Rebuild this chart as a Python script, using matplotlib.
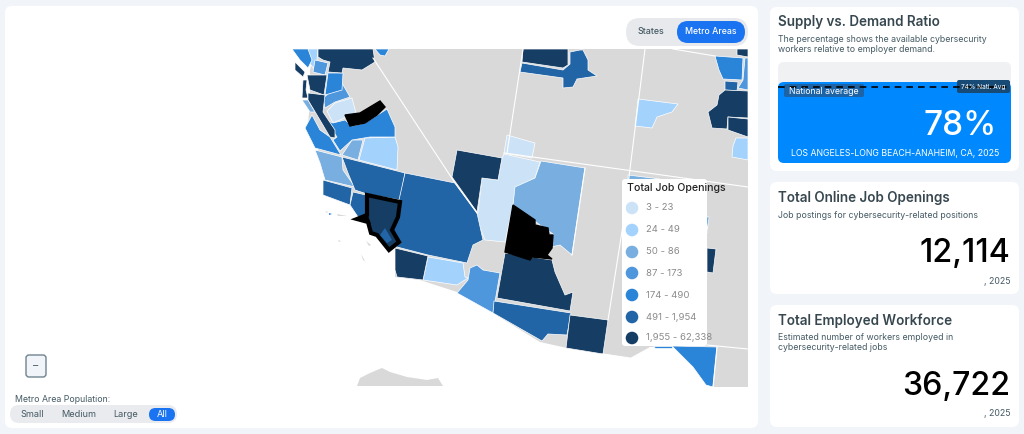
import matplotlib
matplotlib.use('Agg')
import matplotlib.pyplot as plt
from matplotlib.patches import FancyBboxPatch, Polygon, Circle

plt.rcParams['font.family'] = ['Inter', 'DejaVu Sans']

# legend classes
bin_labels = ['3 - 23', '24 - 49', '50 - 86', '87 - 173', '174 - 490', '491 - 1,954', '1,955 - 62,338']
bin_colors = ['#cce3f7', '#a3d2fd', '#78aee0', '#4f97dd', '#2a84d8', '#2265a6', '#163d64']

# KPI values
ratio_value = '78%'
national_avg = '74% Natl. Avg'
area_label = 'LOS ANGELES-LONG BEACH-ANAHEIM, CA, 2025'
job_openings = '12,114'
workforce = '36,722'

# map outlines (pixel space): one list per class
land = [[(315, 49), (748, 49), (748, 387), (713, 387), (693, 367), (673, 347), (650, 347), (630, 358),
         (567, 348), (540, 342), (493, 313), (457, 292), (420, 280), (395, 277), (395, 248), (380, 235),
         (360, 215), (352, 205), (325, 190), (325, 165), (318, 150), (308, 125), (310, 100), (310, 70)],
        [(357, 386), (360, 378), (370, 373), (382, 368), (390, 372), (407, 377), (427, 380), (438, 378), (443, 386)],
        [(325, 211), (328, 212), (327, 213)], [(337, 214), (347, 216), (338, 216)],
        [(338, 240), (341, 241), (339, 242)], [(366, 241), (371, 245), (369, 246)], [(361, 254), (365, 261), (363, 260)]]

bin0 = [[(352, 98), (356, 113), (333, 123), (327, 111), (335, 103)],
        [(507, 135), (535, 143), (532, 158), (504, 153)],
        [(504, 154), (540, 162), (535, 178), (517, 187), (513, 205), (505, 242), (485, 240), (476, 218),
         (478, 212), (482, 178), (498, 180), (502, 158)]]
bin1 = [[(308, 49), (318, 49), (317, 60), (313, 68), (309, 62)],
        [(365, 138), (395, 137), (398, 147), (397, 170), (359, 160)],
        [(428, 257), (463, 263), (465, 277), (468, 278), (457, 285), (423, 280)],
        [(638, 99), (678, 104), (672, 112), (657, 117), (652, 128), (635, 126)],
        [(736, 138), (748, 138), (748, 160), (732, 157), (733, 146)]]
bin2 = [[(302, 100), (308, 100), (315, 112), (310, 112)],
        [(352, 140), (363, 140), (358, 160), (342, 155)],
        [(315, 150), (342, 157), (343, 170), (355, 187), (325, 180), (320, 163)],
        [(541, 161), (585, 168), (572, 255), (560, 245), (551, 247), (553, 234), (540, 225), (513, 205),
         (515, 187), (535, 178)],
        [(628, 175), (660, 179), (628, 181)]]
bin3 = [[(315, 60), (328, 63), (325, 75), (313, 72)],
        [(342, 83), (350, 97), (335, 102), (325, 108), (323, 98)],
        [(477, 265), (483, 270), (500, 273), (493, 313), (457, 293), (468, 280), (470, 268)],
        [(745, 58), (748, 58), (748, 90), (738, 88), (743, 80)]]
bin4 = [[(292, 49), (308, 49), (312, 60), (308, 68), (300, 60)],
        [(330, 49), (338, 49), (334, 55)],
        [(375, 49), (389, 49), (385, 56), (380, 55)],
        [(328, 73), (343, 73), (342, 90), (325, 95)],
        [(333, 123), (345, 120), (352, 126), (365, 123), (387, 109), (395, 127), (395, 137), (370, 137),
         (352, 140), (340, 151), (333, 140), (337, 137), (325, 120)],
        [(312, 115), (320, 130), (330, 137), (341, 155), (315, 148), (305, 128)],
        [(715, 56), (743, 58), (742, 80), (723, 79), (719, 70)],
        [(672, 346), (717, 347), (713, 387), (706, 385), (693, 367)],
        [(653, 346), (672, 346), (672, 348), (655, 348)],
        [(707, 217), (709, 217), (707, 233)]]
bin5 = [[(342, 157), (405, 173), (400, 200), (367, 194), (355, 190), (348, 173)],
        [(323, 180), (352, 188), (350, 205), (323, 195)],
        [(353, 192), (366, 195), (367, 215), (358, 217), (350, 205)],
        [(405, 173), (455, 183), (477, 213), (483, 240), (473, 245), (467, 263), (428, 255), (397, 247),
         (385, 240), (399, 200)],
        [(494, 301), (571, 313), (567, 335), (548, 334), (542, 341), (493, 313)],
        [(522, 63), (563, 70), (570, 64), (570, 52), (580, 50), (583, 50), (588, 60), (588, 70), (597, 76),
         (577, 79), (573, 87), (563, 88), (563, 78), (520, 72)],
        [(725, 81), (738, 82), (737, 91), (725, 90)]]
bin6 = [[(318, 49), (373, 49), (375, 62), (362, 70), (343, 68), (342, 73), (328, 72), (330, 62), (323, 60), (318, 57)],
        [(295, 62), (305, 72), (303, 77), (295, 70)],
        [(307, 75), (327, 75), (324, 95), (310, 90)],
        [(303, 80), (302, 98), (308, 98), (306, 90), (307, 80)],
        [(308, 93), (325, 95), (323, 112), (335, 130), (335, 138), (330, 137), (317, 115), (308, 100)],
        [(457, 150), (502, 158), (498, 180), (482, 178), (477, 212), (452, 177)],
        [(505, 253), (552, 260), (555, 272), (565, 295), (573, 292), (570, 311), (497, 298)],
        [(395, 248), (428, 256), (423, 280), (397, 277), (395, 270)],
        [(570, 315), (608, 320), (603, 354), (566, 348)],
        [(707, 248), (716, 249), (713, 273), (707, 272)],
        [(523, 49), (568, 49), (568, 65), (563, 68), (522, 62)],
        [(737, 49), (748, 49), (748, 57), (737, 55)],
        [(725, 90), (748, 91), (748, 118), (728, 117), (727, 129), (712, 128), (708, 112), (717, 105), (719, 95)],
        [(728, 117), (748, 119), (748, 137), (728, 130)]]
small_blue = [[(329, 213), (332, 214), (329, 215)]]

# the selected areas
selected_black = [[(345, 115), (360, 113), (380, 101), (385, 107), (377, 115), (365, 123), (350, 126)],
                  [(513, 205), (535, 220), (535, 225), (548, 228), (549, 235), (553, 235), (552, 248), (547, 255),
                   (552, 259), (532, 257), (530, 260), (505, 252)]]
selected_outline = [(367, 195), (400, 202), (398, 217), (392, 230), (399, 242), (389, 250), (377, 235), (371, 233),
                    (368, 222), (357, 219), (367, 215)]
selected_inner = [(385, 228), (392, 240), (387, 243), (380, 235)]
selected_tip = [(357, 219), (367, 213), (371, 224)]

# state lines
state_lines = [[(373, 58), (455, 183), (477, 213)], [(523, 49), (507, 153)], [(504, 153), (748, 187)],
               [(645, 49), (623, 225), (608, 320)], [(673, 49), (715, 56)], [(585, 168), (572, 255)],
               [(707, 345), (748, 349)], [(717, 347), (713, 387)], [(603, 354), (630, 358)]]

fig = plt.figure(figsize=(10.24, 4.34), dpi=100, facecolor='#f1f5f9')
ax = fig.add_axes([0, 0, 1, 1])
ax.set_xlim(0, 1024)
ax.set_ylim(434, 0)
ax.axis('off')


def box(x0, y0, x1, y1, r, color, **kw):
    ax.add_patch(FancyBboxPatch((x0 + r, y0 + r), x1 - x0 - 2 * r, y1 - y0 - 2 * r,
                                boxstyle='round,pad=%g,rounding_size=%g' % (r, r), fc=color, ec=kw.pop('ec', 'none'), **kw))


# panels
box(5, 6, 758, 428, 7, 'white')
box(770, 7, 1019, 171, 7, 'white')
box(770, 182, 1019, 294, 7, 'white')
box(770, 305, 1019, 427, 7, 'white')

# map
for poly in land:
    ax.add_patch(Polygon(poly, fc='#d9d9d9', ec='none'))
for line in state_lines:
    ax.plot(*zip(*line), color='white', lw=0.8)
for polys, color in zip([bin0, bin1, bin2, bin3, bin4, bin5, bin6], bin_colors):
    for poly in polys:
        ax.add_patch(Polygon(poly, fc=color, ec='white', lw=0.5, joinstyle='round'))
for poly in small_blue:
    ax.add_patch(Polygon(poly, fc=bin_colors[4], ec='none'))
for poly in selected_black:
    ax.add_patch(Polygon(poly, fc='black', ec='black', lw=1))
ax.add_patch(Polygon(selected_outline, fc=bin_colors[6], ec='black', lw=3, joinstyle='miter'))
ax.add_patch(Polygon(selected_inner, fc=bin_colors[5], ec='none'))
ax.add_patch(Polygon(selected_tip, fc='black', ec='none'))

# legend
box(622, 179, 707, 346, 3, 'white')
ax.text(627, 188, 'Total Job Openings', fontsize=7.6, color='#222222', va='center', fontweight='medium')
legend_y = [208, 230, 252, 273, 295, 317, 338]
for y, label, color in zip(legend_y, bin_labels, bin_colors):
    ax.add_patch(Circle((632, y), 6.3, fc=color, ec='none'))
    ax.text(646, y, label, fontsize=6.9, color='#8a8a8a', va='center')

# states / metro toggle
box(626, 18, 748, 46, 14, '#e7e9ec')
box(677, 21, 745, 43, 11, '#1a73f0')
ax.text(651, 32, 'States', fontsize=6.4, color='#455a64', ha='center', va='center', fontweight='medium')
ax.text(711, 32, 'Metro Areas', fontsize=6.3, color='white', ha='center', va='center', fontweight='medium')

# zoom button and population filter
box(26, 355, 46, 377, 3, '#f1f5f9', ec='#6f8390', lw=1)
ax.text(36, 366, '–', fontsize=7.5, color='#455a64', ha='center', va='center')
ax.text(15, 400, 'Metro Area Population:', fontsize=6.3, color='#455a64', va='center')
box(10, 405, 177, 423, 9, '#e9ebee')
box(149, 408, 175, 421, 6.5, '#1a73f0')
for x, label in zip([32, 79, 126], ['Small', 'Medium', 'Large']):
    ax.text(x, 414.5, label, fontsize=6.6, color='#455a64', ha='center', va='center')
ax.text(162, 414.5, 'All', fontsize=6.6, color='white', ha='center', va='center')

# supply vs demand card
ax.text(778, 22, 'Supply vs. Demand Ratio', fontsize=9.7, color='#37474f', va='center', fontweight='semibold')
ax.text(778, 39, 'The percentage shows the available cybersecurity', fontsize=6.3, color='#455a64', va='center')
ax.text(778, 49.5, 'workers relative to employer demand.', fontsize=6.3, color='#455a64', va='center')
box(778, 62, 1011, 163, 6, '#f0f1f3')
box(778, 82, 1011, 163, 6, '#0088ff')
box(784, 84, 864, 97, 2, '#1c64a6')
ax.text(789, 91, 'National average', fontsize=6.25, color='white', va='center')
ax.plot([778, 1011], [87, 87], color='black', lw=1.2, dashes=(4, 3))
box(957, 80, 1010, 93, 2, '#174a75')
ax.text(983.5, 87, national_avg, fontsize=4.7, color='white', ha='center', va='center')
ax.text(997, 126, ratio_value, fontsize=24, color='white', ha='right', va='center', fontweight='medium')
ax.text(895, 153, area_label, fontsize=6.3, color='white', ha='center', va='center')

# job openings card
ax.text(778, 198, 'Total Online Job Openings', fontsize=9.7, color='#37474f', va='center', fontweight='semibold')
ax.text(778, 215, 'Job postings for cybersecurity-related positions', fontsize=6.3, color='#455a64', va='center')
ax.text(1010, 253, job_openings, fontsize=23.2, color='black', ha='right', va='center', fontweight='medium')
ax.text(1010, 281, ', 2025', fontsize=6.3, color='#455a64', ha='right', va='center')

# workforce card
ax.text(778, 321, 'Total Employed Workforce', fontsize=9.7, color='#37474f', va='center', fontweight='semibold')
ax.text(778, 337, 'Estimated number of workers employed in', fontsize=6.3, color='#455a64', va='center')
ax.text(778, 348, 'cybersecurity-related jobs', fontsize=6.3, color='#455a64', va='center')
ax.text(1010, 386.5, workforce, fontsize=23.2, color='black', ha='right', va='center', fontweight='medium')
ax.text(1010, 414, ', 2025', fontsize=6.3, color='#455a64', ha='right', va='center')

fig.savefig('out.png', dpi=100, facecolor=fig.get_facecolor())
